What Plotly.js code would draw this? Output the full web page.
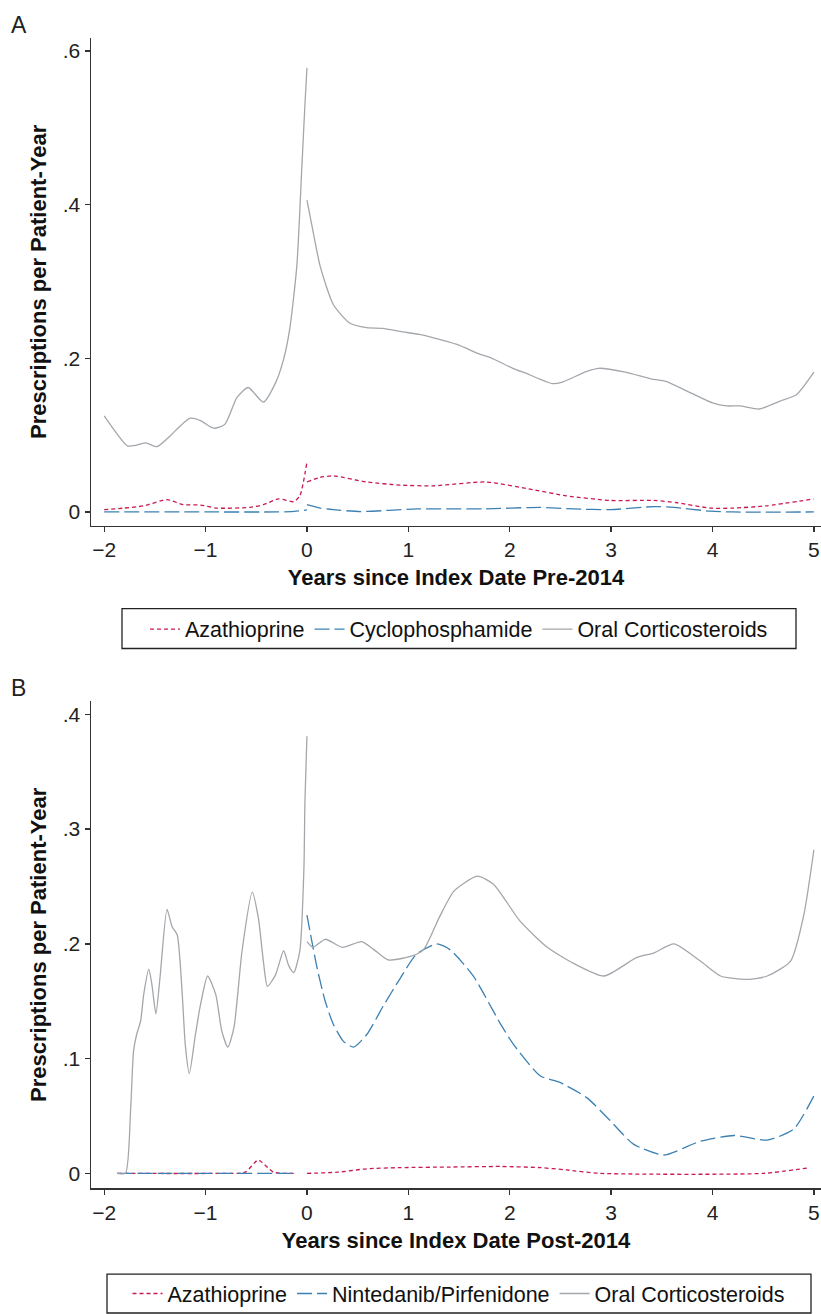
<!DOCTYPE html>
<html>
<head>
<meta charset="utf-8">
<script src="https://cdn.plot.ly/plotly-3.0.1.min.js"></script>
<style>html,body{margin:0;padding:0;background:#fff;}#chart{width:821px;height:1314px;}</style>
</head>
<body>
<div id="chart"></div>
<script>
// ---------- Panel A (Pre-2014) ----------
const seriesNamesA = ["Azathioprine", "Cyclophosphamide", "Oral Corticosteroids"];
const ocsA_preX = [-2, -1.87, -1.77, -1.68, -1.59, -1.48, -1.35, -1.25, -1.15, -1.05, -0.92, -0.81, -0.69, -0.58, -0.43, -0.31, -0.23, -0.17, -0.1, -0.05, -0.02, 0];
const ocsA_preY = [0.125, 0.101, 0.086, 0.087, 0.090, 0.085, 0.099, 0.112, 0.122, 0.119, 0.109, 0.114, 0.149, 0.162, 0.143, 0.168, 0.199, 0.238, 0.32, 0.45, 0.53, 0.578];
const ocsA_postX = [0, 0.05, 0.13, 0.26, 0.42, 0.59, 0.75, 0.92, 1.11, 1.24, 1.48, 1.71, 1.81, 2.03, 2.17, 2.42, 2.52, 2.76, 2.88, 3.14, 3.4, 3.54, 3.77, 4.0, 4.14, 4.27, 4.46, 4.66, 4.83, 5.0];
const ocsA_postY = [0.406, 0.372, 0.32, 0.27, 0.246, 0.24, 0.239, 0.235, 0.231, 0.227, 0.218, 0.205, 0.201, 0.187, 0.18, 0.167, 0.169, 0.183, 0.187, 0.182, 0.173, 0.17, 0.156, 0.142, 0.138, 0.138, 0.134, 0.144, 0.153, 0.182];
const azaA_preX = [-2, -1.81, -1.61, -1.38, -1.22, -1.05, -0.89, -0.56, -0.43, -0.28, -0.13, -0.07, 0];
const azaA_preY = [0.003, 0.005, 0.008, 0.016, 0.0095, 0.009, 0.005, 0.006, 0.0095, 0.017, 0.0134, 0.021, 0.065];
const azaA_postX = [0, 0.13, 0.26, 0.59, 0.92, 1.24, 1.77, 2.23, 2.56, 2.99, 3.42, 3.65, 3.98, 4.2, 4.53, 5.0];
const azaA_postY = [0.039, 0.045, 0.047, 0.039, 0.035, 0.034, 0.039, 0.029, 0.021, 0.015, 0.015, 0.012, 0.005, 0.005, 0.008, 0.017];
const cycA_preX = [-2, -1, -0.3, -0.16, 0];
const cycA_preY = [0, 0, 0, 0.0004, 0.0026];
const cycA_postX = [0, 0.13, 0.26, 0.53, 1.08, 1.74, 2.3, 2.63, 2.99, 3.42, 3.62, 3.98, 4.2, 5.0];
const cycA_postY = [0.0095, 0.005, 0.003, 0.0005, 0.004, 0.004, 0.006, 0.004, 0.003, 0.007, 0.006, 0.001, 0, 0];

// ---------- Panel B (Post-2014) ----------
const seriesNamesB = ["Azathioprine", "Nintedanib/Pirfenidone", "Oral Corticosteroids"];
const ocsB_preX = [-1.87, -1.79, -1.74, -1.71, -1.68, -1.64, -1.61, -1.56, -1.53, -1.49, -1.45, -1.38, -1.33, -1.28, -1.23, -1.2, -1.16, -1.1, -1.05, -0.98, -0.9, -0.84, -0.78, -0.72, -0.64, -0.54, -0.48, -0.43, -0.39, -0.31, -0.23, -0.18, -0.13, -0.07, -0.03, -0.02, 0];
const ocsB_preY = [0, 0, 0.054, 0.107, 0.121, 0.133, 0.156, 0.178, 0.165, 0.139, 0.17, 0.23, 0.215, 0.208, 0.156, 0.112, 0.087, 0.121, 0.147, 0.172, 0.156, 0.124, 0.11, 0.127, 0.194, 0.245, 0.223, 0.185, 0.163, 0.173, 0.194, 0.181, 0.175, 0.194, 0.266, 0.324, 0.381];
const ocsB_postX = [0, 0.06, 0.18, 0.35, 0.54, 0.66, 0.8, 1.02, 1.15, 1.31, 1.45, 1.68, 1.84, 2.1, 2.37, 2.63, 2.93, 3.25, 3.42, 3.62, 3.88, 4.08, 4.34, 4.54, 4.77, 4.9, 5.0];
const ocsB_postY = [0.202, 0.197, 0.204, 0.197, 0.202, 0.195, 0.186, 0.189, 0.195, 0.224, 0.246, 0.259, 0.252, 0.22, 0.197, 0.183, 0.172, 0.188, 0.192, 0.2, 0.185, 0.172, 0.169, 0.172, 0.185, 0.225, 0.282];
const ninB_preX = [-1.87, -1, -0.1];
const ninB_preY = [0, 0, 0];
const ninB_postX = [0, 0.1, 0.18, 0.26, 0.36, 0.46, 0.59, 0.76, 0.92, 1.08, 1.28, 1.41, 1.64, 1.91, 2.04, 2.3, 2.5, 2.76, 2.99, 3.22, 3.52, 3.88, 4.21, 4.54, 4.8, 5.0];
const ninB_postY = [0.225, 0.179, 0.15, 0.13, 0.115, 0.11, 0.121, 0.147, 0.17, 0.191, 0.2, 0.195, 0.172, 0.13, 0.112, 0.085, 0.079, 0.066, 0.046, 0.0255, 0.016, 0.028, 0.033, 0.029, 0.0385, 0.0675];
const azaB_preX = [-1.87, -0.9, -0.61, -0.48, -0.33, -0.1];
const azaB_preY = [0, 0, 0.001, 0.0116, 0.001, 0];
const azaB_postX = [0, 0.3, 0.59, 0.92, 1.41, 1.91, 2.3, 2.56, 2.89, 4.5, 4.96];
const azaB_postY = [0, 0.001, 0.004, 0.005, 0.0055, 0.006, 0.005, 0.003, 0, 0, 0.005];

// tick labels
const xTickVals = [-2, -1, 0, 1, 2, 3, 4, 5];
const yTickValsA = [0, 0.2, 0.4, 0.6];
const yTickTextA = ["0", ".2", ".4", ".6"];
const yTickValsB = [0, 0.1, 0.2, 0.3, 0.4];
const yTickTextB = ["0", ".1", ".2", ".3", ".4"];

const RED = "#c81a4e", BLUE = "#3b80b3", GRAY = "#a3a7ab";
const joinX = (a, b) => a.concat([null], b);
const joinY = (a, b) => a.concat([null], b);

function tr(name, xs, ys, color, dash, xa, ya, leg) {
  return {
    type: "scatter", mode: "lines", name: name,
    x: xs, y: ys, xaxis: xa, yaxis: ya, legend: leg,
    connectgaps: false,
    line: {color: color, width: 1.3, dash: dash, shape: "spline", smoothing: 0.6}
  };
}

const DOT = "4px,3px", LDASH = "15px,5px";
const data = [
  tr(seriesNamesA[0], joinX(azaA_preX, azaA_postX), joinY(azaA_preY, azaA_postY), RED, DOT, "x", "y", "legend"),
  tr(seriesNamesA[1], joinX(cycA_preX, cycA_postX), joinY(cycA_preY, cycA_postY), BLUE, LDASH, "x", "y", "legend"),
  tr(seriesNamesA[2], joinX(ocsA_preX, ocsA_postX), joinY(ocsA_preY, ocsA_postY), GRAY, "solid", "x", "y", "legend"),
  tr(seriesNamesB[0], joinX(azaB_preX, azaB_postX), joinY(azaB_preY, azaB_postY), RED, DOT, "x2", "y2", "legend2"),
  tr(seriesNamesB[1], joinX(ninB_preX, ninB_postX), joinY(ninB_preY, ninB_postY), BLUE, LDASH, "x2", "y2", "legend2"),
  tr(seriesNamesB[2], joinX(ocsB_preX, ocsB_postX), joinY(ocsB_preY, ocsB_postY), GRAY, "solid", "x2", "y2", "legend2")
];

const FONT = "Liberation Sans, Arial, Helvetica, sans-serif";
const W = 821, H = 1314;
function xAxis(anchor, title) {
  return {
    domain: [91 / W, 1], anchor: anchor, range: [-2.13, 5.07],
    showline: true, linecolor: "#333", linewidth: 1.5, mirror: false,
    showgrid: false, zeroline: false,
    ticks: "outside", ticklen: 5, tickwidth: 1.3, tickcolor: "#333",
    tickvals: xTickVals, tickfont: {family: FONT, size: 21, color: "#222"},
    title: {text: "<b>" + title + "</b>", font: {family: FONT, size: 22, color: "#111"}, standoff: 9}
  };
}
function yAxis(domain, anchor, range, vals, text) {
  return {
    domain: domain, anchor: anchor, range: range,
    showline: true, linecolor: "#333", linewidth: 1.5,
    showgrid: false, zeroline: false,
    ticks: "outside", ticklen: 5, tickwidth: 1.3, tickcolor: "#333",
    tickvals: vals, ticktext: text, tickfont: {family: FONT, size: 21, color: "#222"},
    title: {text: "<b>Prescriptions per Patient-Year</b>", font: {family: FONT, size: 22, color: "#111"}, standoff: 10}
  };
}

function box(x0, x1, y0, y1) {
  return {type: "rect", xref: "paper", yref: "paper", x0: x0 / W, x1: x1 / W, y0: 1 - y1 / H, y1: 1 - y0 / H,
          line: {color: "#222", width: 1.3}, fillcolor: "rgba(0,0,0,0)", layer: "above"};
}

const layout = {
  width: W, height: H,
  margin: {l: 0, r: 0, t: 0, b: 0},
  paper_bgcolor: "#fff", plot_bgcolor: "#fff",
  font: {family: FONT, color: "#111"},
  xaxis: xAxis("y", "Years since Index Date Pre-2014"),
  yaxis: yAxis([1 - 527 / H, 1 - 38 / H], "x", [-0.018, 0.617], yTickValsA, yTickTextA),
  xaxis2: xAxis("y2", "Years since Index Date Post-2014"),
  yaxis2: yAxis([1 - 1191 / H, 1 - 703 / H], "x2", [-0.013, 0.4113], yTickValsB, yTickTextB),
  legend: {
    orientation: "h", x: 459 / W, xanchor: "center", y: 1 - 610 / H, yanchor: "top",
    borderwidth: 0, font: {family: FONT, size: 21.5, color: "#111"},
    bgcolor: "rgba(0,0,0,0)"
  },
  legend2: {
    orientation: "h", x: 459 / W, xanchor: "center", y: 1 - 1276 / H, yanchor: "top",
    borderwidth: 0, font: {family: FONT, size: 21.5, color: "#111"},
    bgcolor: "rgba(0,0,0,0)"
  },
  shapes: [box(122, 796, 610, 650), box(107, 811, 1277, 1316)],
  showlegend: true,
  annotations: [
    {text: "A", xref: "paper", yref: "paper", x: 9 / W, y: 1 - 25 / H, xanchor: "left", yanchor: "middle", showarrow: false, font: {family: FONT, size: 23, color: "#222"}},
    {text: "B", xref: "paper", yref: "paper", x: 9 / W, y: 1 - 690 / H, xanchor: "left", yanchor: "middle", showarrow: false, font: {family: FONT, size: 23, color: "#222"}}
  ]
};

Plotly.newPlot("chart", data, layout, {staticPlot: true, displayModeBar: false});
</script>
</body>
</html>
